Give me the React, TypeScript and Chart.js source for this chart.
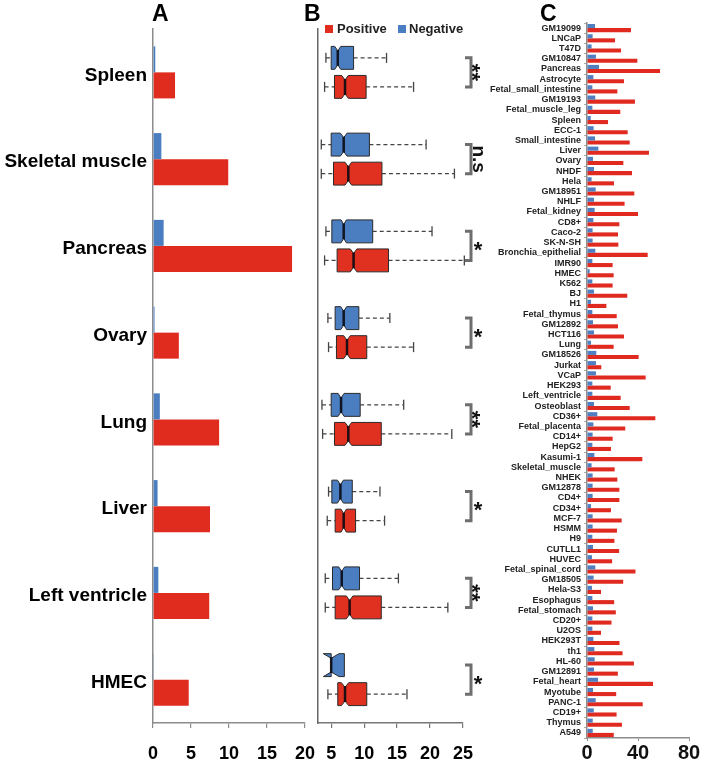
import React, { useEffect, useRef } from 'react';
import { Chart, registerables } from 'chart.js';

Chart.register(...registerables);

const FONT = 'Arial, "Liberation Sans", Helvetica, sans-serif';
const RED = '#E02B1F';
const BLUE = '#4A7EC0';
const AXIS = '#8C8C8C';

// ---------- Panel A ----------
const tissues = ['Spleen', 'Skeletal muscle', 'Pancreas', 'Ovary', 'Lung', 'Liver', 'Left ventricle', 'HMEC'];
const tissueNegative = [0.3, 1.1, 1.4, 0.2, 0.9, 0.6, 0.7, 0.05];
const tissuePositive = [2.9, 9.9, 18.3, 3.4, 8.7, 7.5, 7.4, 4.7];

// ---------- Panel B ----------
const negLow = [4.2, 3.5, 4.2, 4.5, 3.6, 4.6, 4.1, 5.0];
const negQ1 = [5.0, 5.0, 5.1, 5.6, 5.0, 5.1, 5.2, 5.0];
const negMedian = [6.0, 6.9, 6.9, 6.9, 6.5, 6.4, 6.6, 5.0];
const negQ3 = [8.4, 10.8, 11.3, 9.2, 9.4, 8.2, 9.3, 7.0];
const negHigh = [13.4, 19.4, 20.3, 13.9, 16.0, 12.4, 15.2, 7.0];
const negNotch = [0.45, 0.5, 0.4, 0.45, 0.45, 0.45, 0.45, 1.2];

const posLow = [4.0, 3.5, 4.0, 4.6, 3.7, 4.4, 4.1, 4.5];
const posQ1 = [5.5, 5.35, 5.9, 5.8, 5.5, 5.6, 5.6, 6.0];
const posMedian = [7.1, 7.6, 8.4, 7.4, 7.6, 6.9, 7.8, 7.1];
const posQ3 = [10.3, 12.7, 13.7, 10.4, 12.6, 8.7, 12.6, 10.4];
const posHigh = [17.5, 23.7, 25.2, 17.5, 23.3, 13.1, 22.7, 16.5];
const posNotch = [0.5, 0.5, 0.5, 0.5, 0.5, 0.4, 0.5, 0.55];

const significance = ['**', 'n.s', '*', '*', '**', '*', '**', '*'];
const bTicks = [5, 10, 15, 20, 25];

// ---------- Panel C ----------
const cellLines = [
  'GM19099', 'LNCaP', 'T47D', 'GM10847', 'Pancreas', 'Astrocyte', 'Fetal_small_intestine', 'GM19193',
  'Fetal_muscle_leg', 'Spleen', 'ECC-1', 'Small_intestine', 'Liver', 'Ovary', 'NHDF', 'Hela', 'GM18951',
  'NHLF', 'Fetal_kidney', 'CD8+', 'Caco-2', 'SK-N-SH', 'Bronchia_epithelial', 'IMR90', 'HMEC', 'K562',
  'BJ', 'H1', 'Fetal_thymus', 'GM12892', 'HCT116', 'Lung', 'GM18526', 'Jurkat', 'VCaP', 'HEK293',
  'Left_ventricle', 'Osteoblast', 'CD36+', 'Fetal_placenta', 'CD14+', 'HepG2', 'Kasumi-1', 'Skeletal_muscle',
  'NHEK', 'GM12878', 'CD4+', 'CD34+', 'MCF-7', 'HSMM', 'H9', 'CUTLL1', 'HUVEC', 'Fetal_spinal_cord',
  'GM18505', 'Hela-S3', 'Esophagus', 'Fetal_stomach', 'CD20+', 'U2OS', 'HEK293T', 'th1', 'HL-60',
  'GM12891', 'Fetal_heart', 'Myotube', 'PANC-1', 'CD19+', 'Thymus', 'A549',
];
const cellNegative = [
  6.3, 4.4, 3.6, 7.0, 9.4, 5.0, 4.2, 6.5, 4.2, 2.9, 5.2, 6.3, 8.9, 4.7, 5.5, 3.6, 6.8,
  5.5, 6.0, 5.0, 4.4, 4.4, 6.5, 4.2, 2.1, 4.2, 5.5, 3.1, 4.2, 4.7, 5.5, 3.1, 7.3, 7.0, 7.0, 4.2,
  4.2, 5.5, 8.1, 5.0, 4.4, 4.2, 5.8, 3.6, 4.4, 4.4, 4.4, 3.1, 4.4, 4.4, 4.2, 4.7, 3.9, 6.5,
  5.2, 3.9, 4.2, 4.7, 4.2, 4.2, 5.0, 5.8, 6.0, 5.5, 8.7, 4.7, 6.8, 5.3, 4.5, 4.5,
];
const cellPositive = [
  34.5, 22.0, 26.7, 39.5, 57.3, 29.0, 23.8, 37.6, 26.1, 16.5, 31.9, 33.5, 48.6, 28.5, 35.3, 21.2, 37.1,
  29.5, 40.0, 25.4, 24.3, 24.6, 47.6, 20.1, 20.9, 20.1, 31.6, 15.2, 23.3, 24.3, 29.0, 20.9, 40.5, 11.2, 46.0, 18.6,
  26.4, 33.5, 53.6, 30.0, 20.1, 18.8, 43.4, 21.7, 23.8, 25.4, 25.4, 18.8, 27.2, 23.5, 21.5, 25.2, 19.7, 38.0,
  28.4, 11.0, 21.3, 22.6, 19.2, 11.0, 25.5, 27.9, 36.8, 24.2, 51.8, 22.9, 43.7, 23.2, 27.4, 21.0,
];

function ChartCanvas({ left, top, width, height, build }: any) {
  const ref = useRef<HTMLCanvasElement>(null);
  useEffect(() => {
    const chart = new Chart(ref.current as HTMLCanvasElement, build());
    return () => chart.destroy();
  }, []);
  return (
    <div style={{ position: 'absolute', left, top, width, height }}>
      <canvas ref={ref} />
    </div>
  );
}

const boldFont = (size: number) => ({ family: FONT, size, weight: 'bold' as const });

function buildA(): any {
  return {
    type: 'bar',
    data: {
      labels: tissues,
      datasets: [
        { label: 'Negative', data: tissueNegative, backgroundColor: BLUE, categoryPercentage: 0.6, barPercentage: 1 },
        { label: 'Positive', data: tissuePositive, backgroundColor: RED, categoryPercentage: 0.6, barPercentage: 1 },
      ],
    },
    options: {
      indexAxis: 'y',
      responsive: true,
      maintainAspectRatio: false,
      animation: false,
      layout: { padding: { top: 29, right: 25, bottom: 0, left: 0 } },
      plugins: { legend: { display: false }, tooltip: { enabled: false } },
      scales: {
        x: {
          type: 'linear', min: 0, max: 20,
          ticks: { stepSize: 5, font: boldFont(18), color: '#000', padding: 15 },
          grid: { display: true, drawOnChartArea: false, drawTicks: true, tickLength: 5, color: AXIS, lineWidth: 1.2 },
          border: { display: true, color: AXIS, width: 1.5 },
          afterFit: (s: any) => { s.height = 38; },
        },
        y: {
          type: 'category',
          ticks: { font: boldFont(19), color: '#000', padding: 6, autoSkip: false, labelOffset: 3 },
          grid: { display: true, drawOnChartArea: false, drawTicks: false },
          border: { display: true, color: AXIS, width: 1.5 },
          afterFit: (s: any) => { s.width = 153; },
        },
      },
    },
  };
}

const notchedBoxPlugin = {
  id: 'notchedBoxes',
  afterDatasetsDraw(chart: any) {
    const ctx = chart.ctx;
    const xs = chart.scales.x;
    const px = (v: number) => xs.getPixelForValue(v);
    chart.data.datasets.forEach((ds: any, di: number) => {
      const meta = chart.getDatasetMeta(di);
      const s = ds.stats;
      meta.data.forEach((el: any, i: number) => {
        const y = el.y;
        const h = el.height;
        const top = y - h / 2;
        const bot = y + h / 2;
        const d = h * 0.2;
        const wl = px(s.low[i]);
        const q1 = px(s.q1[i]);
        const md = px(s.median[i]);
        const q3 = px(s.q3[i]);
        const wh = px(s.high[i]);
        const nl = px(s.median[i] - s.notch[i]);
        const nh = px(s.median[i] + s.notch[i]);
        ctx.save();
        ctx.strokeStyle = '#444';
        ctx.lineWidth = 1.3;
        ctx.setLineDash([4, 3]);
        if (wh > q3 + 0.5) { ctx.beginPath(); ctx.moveTo(q3, y); ctx.lineTo(wh, y); ctx.stroke(); }
        if (wl < q1 - 0.5) { ctx.beginPath(); ctx.moveTo(wl, y); ctx.lineTo(q1, y); ctx.stroke(); }
        ctx.setLineDash([]);
        if (wh > q3 + 0.5) { ctx.beginPath(); ctx.moveTo(wh, y - 5); ctx.lineTo(wh, y + 5); ctx.stroke(); }
        if (wl < q1 - 0.5) { ctx.beginPath(); ctx.moveTo(wl, y - 5); ctx.lineTo(wl, y + 5); ctx.stroke(); }
        ctx.beginPath();
        ctx.moveTo(q1, top);
        ctx.lineTo(nl, top);
        ctx.lineTo(md, top + d);
        ctx.lineTo(nh, top);
        ctx.lineTo(q3, top);
        ctx.lineTo(q3, bot);
        ctx.lineTo(nh, bot);
        ctx.lineTo(md, bot - d);
        ctx.lineTo(nl, bot);
        ctx.lineTo(q1, bot);
        ctx.closePath();
        ctx.fillStyle = ds.boxColor;
        ctx.fill();
        ctx.strokeStyle = '#2a2a2a';
        ctx.lineWidth = 1;
        ctx.stroke();
        ctx.beginPath();
        ctx.moveTo(md, top + d - 1);
        ctx.lineTo(md, bot - d + 1);
        ctx.lineWidth = 2.5;
        ctx.strokeStyle = 'rgba(10,10,20,0.9)';
        ctx.stroke();
        ctx.restore();
      });
    });
  },
  afterDraw(chart: any) {
    const ctx = chart.ctx;
    const m0 = chart.getDatasetMeta(0);
    const m1 = chart.getDatasetMeta(1);
    const r = chart.chartArea.right;
    significance.forEach((txt, i) => {
      const y0 = m0.data[i].y;
      const y1 = m1.data[i].y;
      const cy = (y0 + y1) / 2;
      ctx.save();
      ctx.strokeStyle = '#6E6E6E';
      ctx.lineWidth = 3;
      ctx.beginPath();
      ctx.moveTo(r + 2, y0);
      ctx.lineTo(r + 8, y0);
      ctx.lineTo(r + 8, y1);
      ctx.lineTo(r + 2, y1);
      ctx.stroke();
      ctx.fillStyle = '#111';
      ctx.textAlign = 'center';
      ctx.textBaseline = 'alphabetic';
      const tx = r + 15;
      if (txt === '*') {
        ctx.font = `bold 22px ${FONT}`;
        ctx.fillText(txt, tx, cy + 0.5 * 22);
      } else {
        const size = txt === 'n.s' ? 19 : 22;
        const lift = txt === 'n.s' ? 0.27 : 0.57;
        ctx.font = `bold ${size}px ${FONT}`;
        ctx.translate(tx, cy);
        ctx.rotate(Math.PI / 2);
        ctx.fillText(txt, 0, lift * size);
      }
      ctx.restore();
    });
  },
};

function buildB(): any {
  return {
    type: 'bar',
    data: {
      labels: tissues,
      datasets: [
        {
          label: 'Negative',
          data: negQ1.map((q, i) => [q, negQ3[i]]),
          backgroundColor: 'rgba(0,0,0,0)',
          borderWidth: 0,
          categoryPercentage: 0.669,
          barPercentage: 0.79,
          boxColor: '#4A7EC1',
          stats: { low: negLow, q1: negQ1, median: negMedian, q3: negQ3, high: negHigh, notch: negNotch },
        },
        {
          label: 'Positive',
          data: posQ1.map((q, i) => [q, posQ3[i]]),
          backgroundColor: 'rgba(0,0,0,0)',
          borderWidth: 0,
          categoryPercentage: 0.669,
          barPercentage: 0.79,
          boxColor: '#E0301F',
          stats: { low: posLow, q1: posQ1, median: posMedian, q3: posQ3, high: posHigh, notch: posNotch },
        },
      ],
    },
    plugins: [notchedBoxPlugin],
    options: {
      indexAxis: 'y',
      responsive: true,
      maintainAspectRatio: false,
      animation: false,
      layout: { padding: { top: 29, right: 33, bottom: 0, left: 0 } },
      plugins: { legend: { display: false }, tooltip: { enabled: false } },
      scales: {
        x: {
          type: 'linear', min: 3, max: 25,
          afterBuildTicks: (s: any) => { s.ticks = bTicks.map((v) => ({ value: v })); },
          ticks: { font: boldFont(18), color: '#000', padding: 15 },
          grid: { display: true, drawOnChartArea: false, drawTicks: true, tickLength: 5, color: '#777', lineWidth: 1.2 },
          border: { display: true, color: '#777', width: 1.5 },
          afterFit: (s: any) => { s.height = 38; },
        },
        y: {
          type: 'category',
          ticks: { display: false },
          grid: { display: true, drawOnChartArea: false, drawTicks: false },
          border: { display: true, color: '#666', width: 1.5 },
          afterFit: (s: any) => { s.width = 22; },
        },
      },
    },
  };
}

function buildC(): any {
  return {
    type: 'bar',
    data: {
      labels: cellLines,
      datasets: [
        { label: 'Negative', data: cellNegative, backgroundColor: '#4F7FC0', categoryPercentage: 0.8, barPercentage: 1 },
        { label: 'Positive', data: cellPositive, backgroundColor: '#E02A20', categoryPercentage: 0.8, barPercentage: 1 },
      ],
    },
    options: {
      indexAxis: 'y',
      responsive: true,
      maintainAspectRatio: false,
      animation: false,
      layout: { padding: { top: 23, right: 12, bottom: 0, left: 0 } },
      plugins: { legend: { display: false }, tooltip: { enabled: false } },
      scales: {
        x: {
          type: 'linear', min: 0, max: 80,
          ticks: { stepSize: 40, font: boldFont(20), color: '#111', padding: 0 },
          grid: { display: true, drawOnChartArea: false, drawTicks: true, tickLength: 3, color: AXIS },
          border: { display: true, color: AXIS, width: 1.5 },
          afterFit: (s: any) => { s.height = 23; },
        },
        y: {
          type: 'category',
          ticks: { font: boldFont(9), color: '#222', padding: 3, autoSkip: false },
          grid: { display: true, drawOnChartArea: false, drawTicks: true, tickLength: 3, color: '#AAA' },
          border: { display: true, color: AXIS, width: 1.5 },
          afterFit: (s: any) => { s.width = 103; },
        },
      },
    },
  };
}

const letterStyle = (left: number): React.CSSProperties => ({
  position: 'absolute', left, top: 0, font: `bold 23px ${FONT}`, lineHeight: '26px', color: '#000',
});

export default function App() {
  return (
    <div style={{ position: 'fixed', left: 0, top: 0, width: 701, height: 761, background: '#fff', overflow: 'hidden', fontFamily: FONT }}>
      <ChartCanvas left={0} top={0} width={330} height={761} build={buildA} />
      <ChartCanvas left={296} top={0} width={200} height={761} build={buildB} />
      <ChartCanvas left={484} top={0} width={217} height={761} build={buildC} />
      <div style={letterStyle(152)}>A</div>
      <div style={letterStyle(304)}>B</div>
      <div style={letterStyle(540)}>C</div>
      <div style={{ position: 'absolute', left: 325, top: 25, width: 8, height: 8, background: RED }} />
      <div style={{ position: 'absolute', left: 337, top: 20, font: `bold 13px ${FONT}`, lineHeight: '17px', color: '#222' }}>Positive</div>
      <div style={{ position: 'absolute', left: 398, top: 25, width: 8, height: 8, background: BLUE }} />
      <div style={{ position: 'absolute', left: 409, top: 20, font: `bold 13px ${FONT}`, lineHeight: '17px', color: '#222' }}>Negative</div>
    </div>
  );
}
